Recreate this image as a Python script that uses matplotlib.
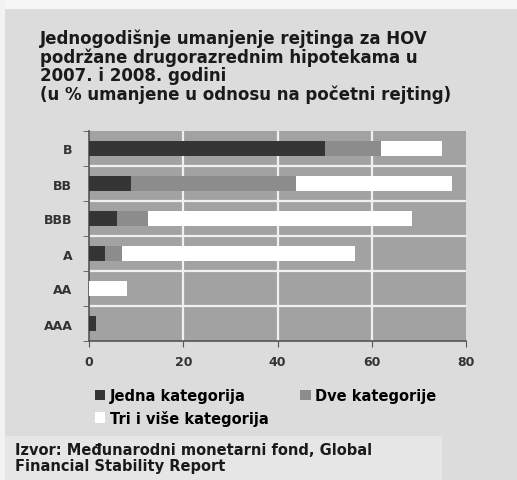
import matplotlib.pyplot as plt
from matplotlib.patches import Rectangle, Patch
import numpy as np

ratings = ['B', 'BB', 'BBB', 'A', 'AA', 'AAA']
jedna = [50, 9, 6, 3.5, 0, 1.4]
dve = [12, 35, 6.5, 3.5, 0, 0]
tri = [13, 33, 56, 49.5, 8, 0]
xticks = [0, 20, 40, 60, 80]

series_names = ['Jedna kategorija', 'Dve kategorije', 'Tri i više kategorija']
colors = ['#353535', '#8c8c8c', '#ffffff']

fig = plt.figure(figsize=(5.17, 4.81), dpi=100)
fig.patch.set_facecolor('#dcdcdc')
# white strip on top and lighter source box
fig.patches.append(Rectangle((0, 1 - 10 / 481), 1, 10 / 481, transform=fig.transFigure,
                             facecolor='#f6f6f6', edgecolor='none', zorder=0))
fig.patches.append(Rectangle((0, 0), 5 / 517, 1, transform=fig.transFigure,
                             facecolor='#f2f2f2', edgecolor='none', zorder=0))
fig.patches.append(Rectangle((5 / 517, 0), 437 / 517, 44 / 481, transform=fig.transFigure,
                             facecolor='#e6e6e6', edgecolor='none', zorder=0))

ax = fig.add_axes([89 / 517, 1 - 342 / 481, 377 / 517, 210 / 481])
ax.set_facecolor('#a2a2a2')

y = np.arange(len(ratings))
left = np.zeros(len(ratings))
for vals, name, c in zip([jedna, dve, tri], series_names, colors):
    ax.barh(y, vals, left=left, height=0.45, color=c, label=name, zorder=3)
    left = left + np.array(vals)

ax.set_xlim(0, 80)
ax.set_ylim(len(ratings) - 0.5, -0.5)
ax.set_xticks(xticks)
ax.set_xticklabels([str(t) for t in xticks], fontsize=9, fontweight='bold', color='#333333')
ax.set_yticks(y)
ax.set_yticklabels(ratings, fontsize=9, fontweight='bold', color='#333333')
ax.set_yticks(np.arange(len(ratings) + 1) - 0.5, minor=True)
ax.tick_params(axis='y', which='major', length=0, pad=12)
ax.tick_params(axis='y', which='minor', length=4, color='#555555', direction='out')
ax.tick_params(axis='x', which='major', length=4, color='#555555', direction='out', pad=6)

for v in xticks[1:-1]:
    ax.axvline(v, color='#f0f0f0', lw=1.6, zorder=1)
for b in np.arange(1, len(ratings)) - 0.5:
    ax.axhline(b, color='#f0f0f0', lw=1.6, zorder=1)

for s in ['top', 'right']:
    ax.spines[s].set_visible(False)
for s in ['left', 'bottom']:
    ax.spines[s].set_color('#555555')
    ax.spines[s].set_linewidth(1.2)

fig.text(40 / 517, 1 - 30 / 481,
         'Jednogodišnje umanjenje rejtinga za HOV\n'
         'podržane drugorazrednim hipotekama u\n'
         '2007. i 2008. godini\n'
         '(u % umanjene u odnosu na početni rejting)',
         ha='left', va='top', fontsize=12, fontweight='bold', color='#1a1a1a',
         linespacing=1.0)

handles = [Patch(facecolor=c, edgecolor='none') for c in colors]
order = [0, 2, 1]
fig.legend([handles[i] for i in order], [series_names[i] for i in order],
           loc='upper left', bbox_to_anchor=(95 / 517, 1 - 389 / 481),
           ncol=2, frameon=False, prop={'weight': 'bold', 'size': 10.5},
           handlelength=0.7, handleheight=0.7, handletextpad=0.3, columnspacing=2.2,
           labelspacing=0.45, borderaxespad=0, borderpad=0)

fig.text(15 / 517, 1 - 443 / 481,
         'Izvor: Međunarodni monetarni fond, Global\nFinancial Stability Report',
         ha='left', va='top', fontsize=10.5, fontweight='bold', color='#1a1a1a',
         linespacing=1.05)

fig.savefig('out.png', dpi=100, facecolor=fig.get_facecolor())
